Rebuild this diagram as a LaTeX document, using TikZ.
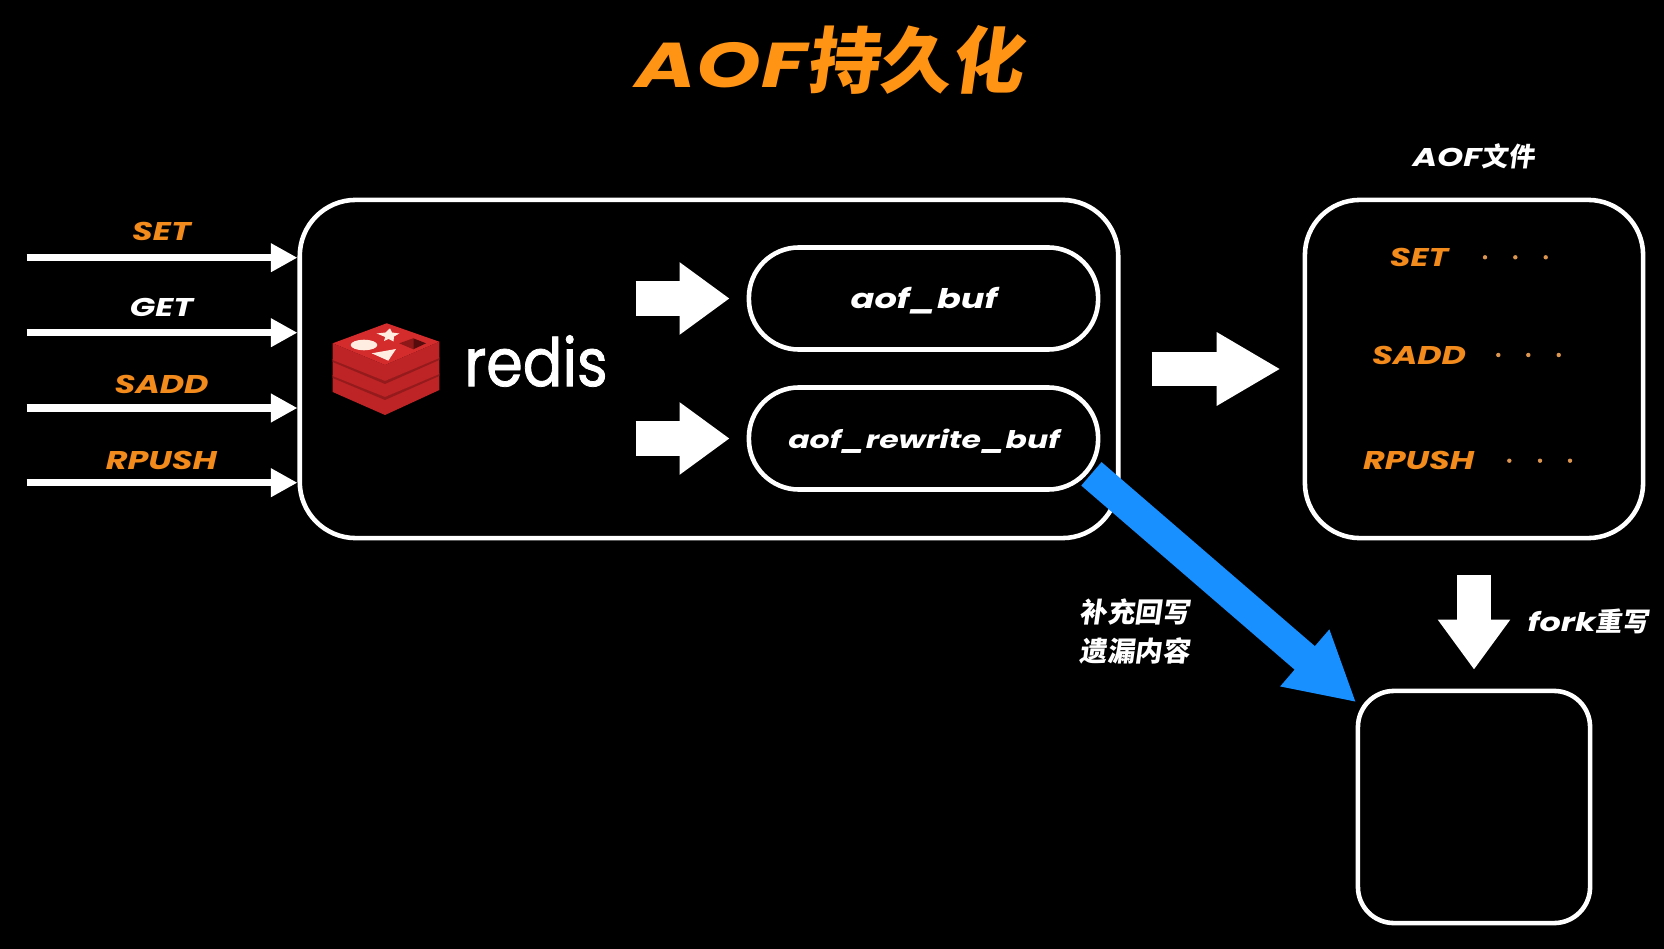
\documentclass[tikz,border=0pt]{standalone}
\usepackage{fontspec}
\usetikzlibrary{arrows.meta}
\newfontfamily\techfont[FakeStretch=1.3]{Poppins}
\newfontfamily\redisfont[FakeStretch=0.88,FakeBold=1.2]{Poppins}
\newfontfamily\cjkfont[FakeSlant=0.14]{Noto Sans CJK SC}
\newcommand{\cn}[1]{{\cjkfont\upshape #1}}

\definecolor{titleOrange}{HTML}{FF9314}
\definecolor{cmdOrange}{HTML}{F28A1C}
\definecolor{dotOrange}{HTML}{DC9650}
\definecolor{deepBlue}{HTML}{1890FF}
\definecolor{redisTop}{HTML}{D42B2C}
\definecolor{redisSide}{HTML}{BE2426}
\definecolor{redisBand}{HTML}{951A1C}
\definecolor{redisDark}{HTML}{8E1717}
\definecolor{redisDarker}{HTML}{560C0C}
\definecolor{redisIcon}{HTML}{FFEDE2}

\tikzset{
    roundbox/.style={draw=white, line width=1.3pt, rounded corners=#1, inner sep=0pt},
    techlabel/.style={text=#1, inner sep=0pt, font=\techfont\bfseries\itshape\fontsize{7.3}{9}\selectfont},
    buflabel/.style={text=white, inner sep=0pt, font=\techfont\bfseries\itshape\fontsize{#1}{10}\selectfont},
    cjklabel/.style={text=white, inner sep=0pt, font=\cjkfont\bfseries\fontsize{7.8}{9}\selectfont},
    inarrow/.style={white, line width=2.1pt, -{Triangle[length=0.265cm, width=0.27cm]}},
    bigarrow/.style={white, line width=0.34cm, -{Triangle[length=#1, width=0.69cm]}},
    bluearrow/.style={deepBlue, line width=0.31cm, -{Triangle[length=0.68cm, width=0.7cm]}}
}

\begin{document}
\begin{tikzpicture}[x=0.01cm, y=-0.01cm]
    \fill[black] (0,0) rectangle (1664,949);

    \node[text=titleOrange, inner sep=0pt, font=\techfont\bfseries\itshape\fontsize{18}{22}\selectfont] (title) at (829,60) {AOF{\fontsize{20.5}{22}\selectfont\cn{持久化}}};

    % boxes
    \node[roundbox=0.56cm, minimum width=8.18cm, minimum height=3.38cm] (mainBox) at (709,369) {};
    \node[roundbox=0.55cm, minimum width=3.38cm, minimum height=3.38cm] (fileBox) at (1474,369) {};
    \node[roundbox=0.36cm, minimum width=2.32cm, minimum height=2.32cm] (forkBox) at (1474,807) {};
    \node[roundbox=0.5cm, minimum width=3.49cm, minimum height=1.02cm] (bufNode) at (923.5,298.5) {};
    \node[roundbox=0.5cm, minimum width=3.49cm, minimum height=1.02cm] (rewriteNode) at (923.5,438.5) {};
    \node[buflabel=7.7] (bufText) at (924,301) {aof\_buf};
    \node[buflabel=6.9] (rewriteText) at (924,441) {aof\_rewrite\_buf};

    % commands going in
    \node[techlabel=cmdOrange] (setLabel) at (161.5,231) {SET};
    \node[techlabel=white] (getLabel) at (161.5,307.7) {GET};
    \node[techlabel=cmdOrange] (saddLabel) at (161.5,384) {SADD};
    \node[techlabel=cmdOrange] (rpushLabel) at (161.5,460.7) {RPUSH};
    \coordinate (setStart) at (26.5,257.7);
    \coordinate (getStart) at (26.5,332.7);
    \coordinate (saddStart) at (26.5,408);
    \coordinate (rpushStart) at (26.5,482.7);
    \draw[inarrow] (setStart) -- (setStart -| mainBox.west);
    \draw[inarrow] (getStart) -- (getStart -| mainBox.west);
    \draw[inarrow] (saddStart) -- (saddStart -| mainBox.west);
    \draw[inarrow] (rpushStart) -- (rpushStart -| mainBox.west);

    % redis logo
    \fill[redisSide] (332.7,375.3) -- (385,397) -- (439.3,373.7) -- (439.3,390) -- (385,415) -- (332.7,392) -- cycle;
    \fill[redisBand] (332.7,375.3) -- (385,397) -- (439.3,373.7) -- (439.3,376) -- (385,400) -- (332.7,378) -- cycle;
    \fill[redisSide] (332.7,359.3) -- (385,381) -- (439.3,357.7) -- (439.3,374) -- (385,397) -- (332.7,376) -- cycle;
    \fill[redisBand] (332.7,359.3) -- (385,381) -- (439.3,357.7) -- (439.3,360) -- (385,384) -- (332.7,362) -- cycle;
    \fill[redisSide] (332.7,343.3) -- (385,365) -- (439.3,341.7) -- (439.3,358) -- (385,381) -- (332.7,360) -- cycle;
    \fill[redisTop] (386.7,323.3) -- (439.3,341.7) -- (385,365) -- (332.7,343.3) -- cycle;
    \fill[redisIcon] (364,345) ellipse (13.3 and 5.3);
    \fill[redisIcon] (371.7,353.3) -- (396,349) -- (388.3,360.7) -- cycle;
    \fill[redisIcon] (390,328.3) -- (392,332.5) -- (399.3,333.5) -- (394,336.5) -- (393.5,341.5) -- (388.5,339) -- (384,341) -- (385.3,337) -- (376.7,333.5) -- (385.5,332.5) -- cycle;
    \fill[redisDark] (399.3,343.3) -- (413.3,338.3) -- (413.3,349.3) -- cycle;
    \fill[redisDarker] (413.3,338.3) -- (426,343.3) -- (413.3,349.3) -- cycle;
    \node[text=white, inner sep=0pt, font=\redisfont\fontsize{19}{24}\selectfont] (redisWord) at (536,361) {redis};

    % arrows between boxes
    \coordinate (bufStart) at (635.7,298.5);
    \coordinate (rewriteStart) at (635.7,438.5);
    \draw[bigarrow=0.5cm] (bufStart) -- ([shift={(-17,0)}]bufNode.west);
    \draw[bigarrow=0.5cm] (rewriteStart) -- ([shift={(-17,0)}]rewriteNode.west);
    \draw[bigarrow=0.64cm] ([shift={(31,0)}]mainBox.east) -- ([shift={(-22,0)}]fileBox.west);
    \draw[bigarrow=0.5cm] ([shift={(0,35)}]fileBox.south) -- ([shift={(0,-19)}]forkBox.north);
    \draw[bluearrow] ([shift={(-9,-18)}]rewriteNode.south east) -- ([shift={(0.6,13.7)}]forkBox.north west);

    % AOF file content
    \node[techlabel=white] (fileTitle) at (1473.5,156.7) {AOF{\fontsize{7.5}{9}\selectfont\cn{文件}}};
    \node[techlabel=cmdOrange] (fileSet) at (1419,257.7) {SET};
    \node[techlabel=cmdOrange] (fileSadd) at (1419,355) {SADD};
    \node[techlabel=cmdOrange] (fileRpush) at (1418.7,460.7) {RPUSH};
    \fill[dotOrange] (1485,257.3) circle (2.2);
    \fill[dotOrange] (1515.3,257.3) circle (2.2);
    \fill[dotOrange] (1545.7,257.3) circle (2.2);
    \fill[dotOrange] (1498.3,355) circle (2.2);
    \fill[dotOrange] (1528.3,355) circle (2.2);
    \fill[dotOrange] (1558.7,355) circle (2.2);
    \fill[dotOrange] (1509.3,460.7) circle (2.2);
    \fill[dotOrange] (1540,460.7) circle (2.2);
    \fill[dotOrange] (1570,460.7) circle (2.2);

    % side notes
    \node[cjklabel] (noteOne) at (1134.7,612) {补充回写};
    \node[cjklabel] (noteTwo) at (1134.7,651) {遗漏内容};
    \node[techlabel=white] (forkLabel) at (1588,621.8) {fork{\fontsize{7.5}{9}\selectfont\cn{重写}}};
\end{tikzpicture}
\end{document}
